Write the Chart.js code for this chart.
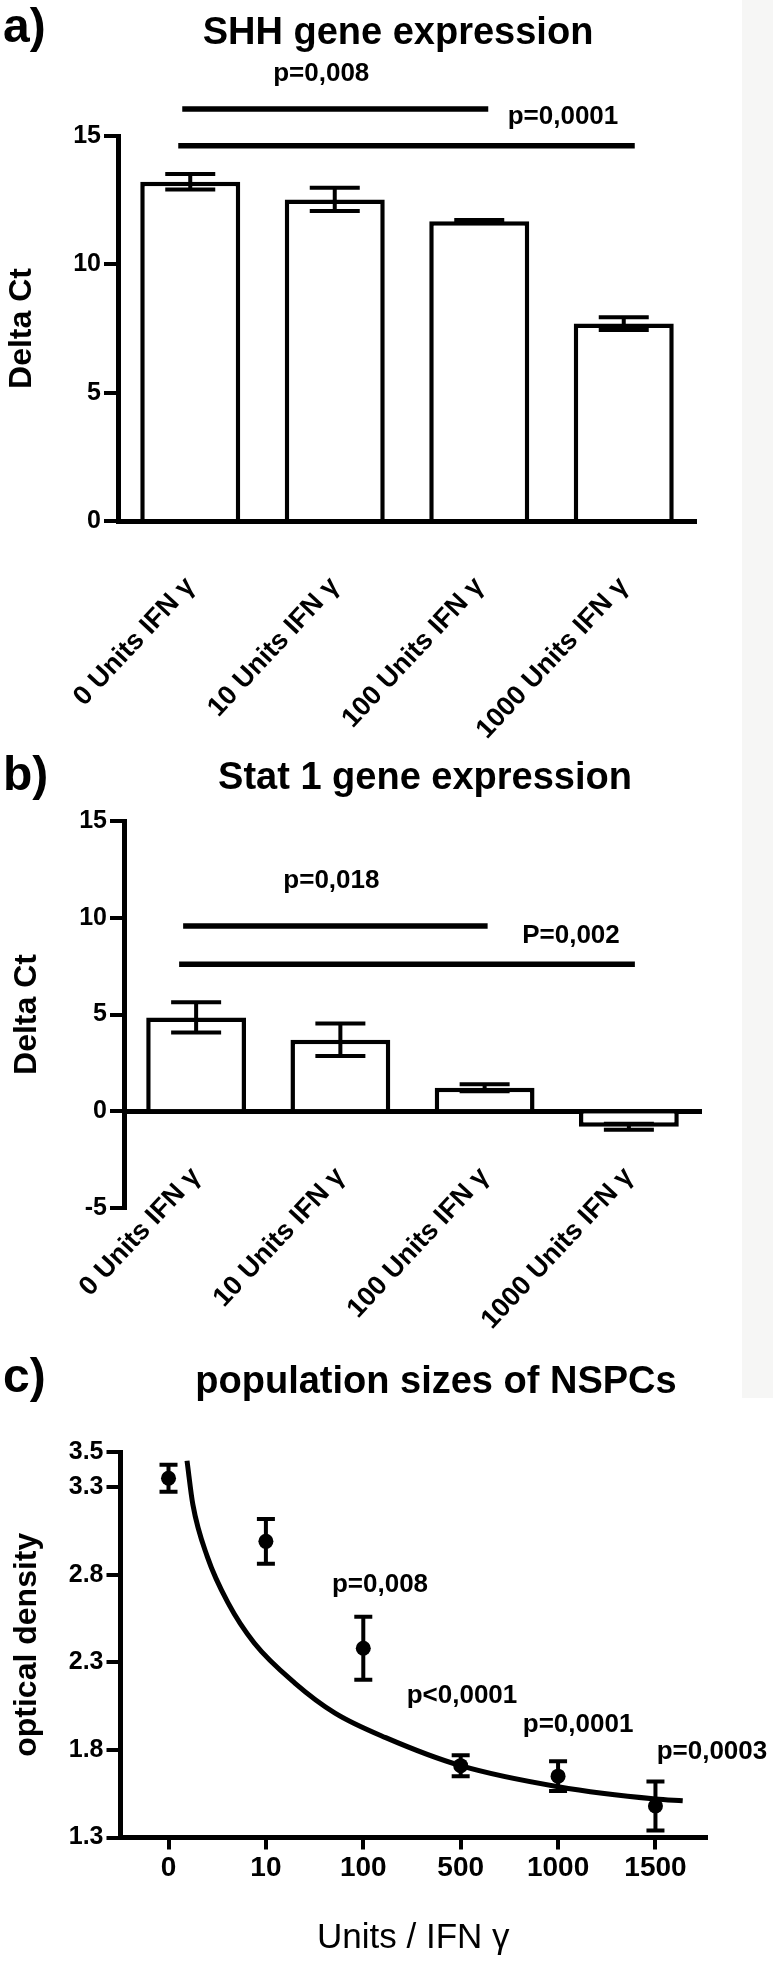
<!DOCTYPE html>
<html><head><meta charset="utf-8">
<script src="https://cdn.jsdelivr.net/npm/chart.js@4.4.1/dist/chart.umd.min.js"></script>
<style>
html,body{margin:0;padding:0;background:#fff;}
body{width:773px;height:1971px;position:relative;overflow:hidden;}
canvas{position:absolute;left:0;}
#strip{position:absolute;left:742px;top:0;width:31px;height:1398px;background:#f6f6f5;}
</style></head><body>
<div id="strip"></div>
<canvas id="ca" width="773" height="745" style="top:0px"></canvas>
<canvas id="cb" width="773" height="590" style="top:745px"></canvas>
<canvas id="cc" width="773" height="636" style="top:1335px"></canvas>
<script>
const FONT = '"Liberation Sans", Arial, Helvetica, sans-serif';

// ---- data: panel a (SHH) ----
const barCategories = ['0 Units IFN γ', '10 Units IFN γ', '100 Units IFN γ', '1000 Units IFN γ'];
const shhMean = [13.22, 12.53, 11.68, 7.69];
const shhSem = [0.30, 0.45, 0.05, 0.25];
const shhYTicks = [0, 5, 10, 15];
const shhPLabels = ['p=0,008', 'p=0,0001'];

// ---- data: panel b (Stat 1) ----
const stat1Mean = [4.85, 3.70, 1.22, -0.80];
const stat1Sem = [0.78, 0.84, 0.18, 0.15];
const stat1YTicks = [-5, 0, 5, 10, 15];
const stat1PLabels = ['p=0,018', 'P=0,002'];

// ---- data: panel c (population sizes) ----
const doseLabels = ['0', '10', '100', '500', '1000', '1500'];
const dosePos = [0, 1, 2, 3, 4, 5];
const odMean = [3.35, 2.99, 2.38, 1.71, 1.65, 1.48];
const odSem = [0.077, 0.128, 0.18, 0.06, 0.085, 0.14];
const odPLabels = [null, null, 'p=0,008', 'p<0,0001', 'p=0,0001', 'p=0,0003'];
const odYTicks = [1.3, 1.8, 2.3, 2.8, 3.3, 3.5];
const fitX = [0.19, 0.25, 0.40, 0.61, 0.88, 1.30, 1.71, 2.23, 3.00, 4.00, 5.00, 5.28];
const fitY = [3.45, 3.20, 2.90, 2.64, 2.41, 2.18, 2.01, 1.87, 1.71, 1.59, 1.52, 1.51];

Chart.defaults.font.family = FONT;
Chart.defaults.color = '#000';

const decor = {
  id: 'decor',
  afterDatasetsDraw(chart, args, o) {
    const ctx = chart.ctx, ys = chart.scales.y, xs = chart.scales.x;
    ctx.save();
    ctx.fillStyle = '#000';
    ctx.strokeStyle = '#000';
    ctx.lineCap = 'butt';
    // error bars
    if (o.err) {
      const ds = chart.data.datasets[o.err.dataset];
      chart.getDatasetMeta(o.err.dataset).data.forEach((el, i) => {
        const raw = ds.data[i];
        const m = (typeof raw === 'object') ? raw.y : raw;
        const e = o.err.sem[i];
        const yt = ys.getPixelForValue(m + e), yb = ys.getPixelForValue(m - e);
        ctx.lineWidth = o.err.lw;
        ctx.beginPath();
        ctx.moveTo(el.x, yt); ctx.lineTo(el.x, yb);
        ctx.moveTo(el.x - o.err.cap, yt); ctx.lineTo(el.x + o.err.cap, yt);
        ctx.moveTo(el.x - o.err.cap, yb); ctx.lineTo(el.x + o.err.cap, yb);
        ctx.stroke();
        if (o.err.labels && o.err.labels[i]) {
          const off = o.err.labelOff[i];
          ctx.font = 'bold 26px ' + FONT;
          ctx.textAlign = 'center';
          ctx.textBaseline = 'alphabetic';
          ctx.fillText(o.err.labels[i], el.x + off[0], yt + off[1]);
        }
      });
    }
    // significance bars
    (o.sigs || []).forEach(s => {
      const y = ys.getPixelForValue(s.level);
      const x1 = xs.getPixelForValue(s.from) + s.ext[0];
      const x2 = xs.getPixelForValue(s.to) + s.ext[1];
      ctx.lineWidth = 5.5;
      ctx.beginPath(); ctx.moveTo(x1, y); ctx.lineTo(x2, y); ctx.stroke();
      ctx.font = 'bold 26px ' + FONT;
      ctx.textAlign = 'center';
      ctx.textBaseline = 'alphabetic';
      ctx.fillText(s.text, (x1 + x2) / 2 + s.lab[0], y + s.lab[1]);
    });
    // panel letter and title
    if (o.letter) {
      ctx.font = 'bold 48px ' + FONT;
      ctx.textAlign = 'left';
      ctx.textBaseline = 'alphabetic';
      ctx.fillText(o.letter.text, o.letter.x, o.letter.y);
    }
    if (o.title) {
      ctx.font = 'bold 38px ' + FONT;
      ctx.textAlign = 'center';
      ctx.textBaseline = 'alphabetic';
      ctx.fillText(o.title.text, o.title.x, o.title.y);
    }
    ctx.restore();
  }
};

function yAxis(width, min, max, ticksArr, title, titlePad, fmt) {
  return {
    type: 'linear', min, max, z: 1,
    afterFit: s => { s.width = width; },
    afterBuildTicks: s => { s.ticks = ticksArr.map(v => ({value: v})); },
    border: {display: true, width: 5, color: '#000'},
    grid: {display: true, drawOnChartArea: false, drawTicks: true, tickLength: 14, tickWidth: 4, tickColor: '#000', color: '#000', lineWidth: 4},
    ticks: {font: {size: 25, weight: 'bold'}, color: '#000', padding: 3, autoSkip: false,
            callback: fmt || (v => String(v))},
    title: {display: true, text: title, font: {size: 32, weight: 'bold'}, color: '#000', padding: {top: titlePad, bottom: 0}}
  };
}

function barXAxis() {
  return {
    type: 'category', position: {y: 0}, z: 1, offset: true,
    border: {display: true, width: 5, color: '#000'},
    grid: {display: false, drawTicks: false},
    ticks: {font: {size: 27, weight: 'bold'}, color: '#000', minRotation: 47, maxRotation: 47, autoSkip: false, padding: 50}
  };
}

function barDataset(values) {
  return {
    data: values, backgroundColor: '#fff', borderColor: '#000', borderWidth: 4.5,
    barPercentage: 0.692, categoryPercentage: 1
  };
}

// ---- Panel a ----
new Chart(document.getElementById('ca'), {
  type: 'bar',
  data: {labels: barCategories, datasets: [barDataset(shhMean)]},
  options: {
    responsive: false, animation: false, devicePixelRatio: 1,
    layout: {padding: {top: 136, right: 77, bottom: 224, left: 0}},
    plugins: {
      legend: {display: false}, tooltip: {enabled: false},
      decor: {
        letter: {text: 'a)', x: 3, y: 42},
        title: {text: 'SHH gene expression', x: 398, y: 44},
        err: {dataset: 0, sem: shhSem, cap: 25, lw: 4},
        sigs: [
          {from: 0, to: 2, level: 16.05, ext: [-8, 9], text: shhPLabels[0], lab: [-14, -27.7]},
          {from: 0, to: 3, level: 14.62, ext: [-12, 11], text: shhPLabels[1], lab: [156.5, -22]}
        ]
      }
    },
    scales: {
      x: barXAxis(),
      y: yAxis(118, 0, 15, shhYTicks, 'Delta Ct', 2.7)
    }
  },
  plugins: [decor]
});

// ---- Panel b ----
new Chart(document.getElementById('cb'), {
  type: 'bar',
  data: {labels: barCategories, datasets: [barDataset(stat1Mean)]},
  options: {
    responsive: false, animation: false, devicePixelRatio: 1,
    layout: {padding: {top: 76, right: 72, bottom: 127, left: 0}},
    plugins: {
      legend: {display: false}, tooltip: {enabled: false},
      decor: {
        letter: {text: 'b)', x: 3, y: 45},
        title: {text: 'Stat 1 gene expression', x: 425, y: 44},
        err: {dataset: 0, sem: stat1Sem, cap: 25, lw: 4},
        sigs: [
          {from: 0, to: 2, level: 9.57, ext: [-13, 3], text: stat1PLabels[0], lab: [-4, -38]},
          {from: 0, to: 3, level: 7.6, ext: [-17, 6], text: stat1PLabels[1], lab: [164, -21.3]}
        ]
      }
    },
    scales: {
      x: barXAxis(),
      y: yAxis(124, -5, 15, stat1YTicks, 'Delta Ct', 7.7)
    }
  },
  plugins: [decor]
});

// ---- Panel c ----
new Chart(document.getElementById('cc'), {
  type: 'scatter',
  data: {
    datasets: [
      {
        data: dosePos.map((x, i) => ({x, y: odMean[i]})),
        pointRadius: 7.5, pointBackgroundColor: '#000', pointBorderWidth: 0, showLine: false
      },
      {
        data: fitX.map((x, i) => ({x, y: fitY[i]})),
        showLine: true, borderColor: '#000', borderWidth: 5, pointRadius: 0,
        cubicInterpolationMode: 'monotone', fill: false
      }
    ]
  },
  options: {
    responsive: false, animation: false, devicePixelRatio: 1,
    layout: {padding: {top: 117, right: 67, bottom: 0, left: 0}},
    plugins: {
      legend: {display: false}, tooltip: {enabled: false},
      decor: {
        letter: {text: 'c)', x: 3, y: 57},
        title: {text: 'population sizes of NSPCs', x: 436, y: 58},
        err: {dataset: 0, sem: odSem, cap: 9, lw: 4, labels: odPLabels,
              labelOff: [null, null, [16.7, -25], [1.3, -51.7], [20, -29.3], [56.5, -22.7]]}
      }
    },
    scales: {
      x: {
        type: 'linear', min: -0.493, max: 5.519, z: 1,
        afterFit: s => { s.height = 133.5; },
        afterBuildTicks: s => { s.ticks = dosePos.map(v => ({value: v})); },
        border: {display: true, width: 5, color: '#000'},
        grid: {display: true, drawOnChartArea: false, drawTicks: true, tickLength: 12, tickWidth: 4, tickColor: '#000', color: '#000', lineWidth: 4},
        ticks: {font: {size: 28, weight: 'bold'}, color: '#000', padding: 2, autoSkip: false, maxRotation: 0,
                callback: (v, i) => doseLabels[i]},
        title: {display: true, text: 'Units / IFN γ', font: {size: 35, weight: 'normal'}, color: '#000', padding: {top: 0, bottom: 12}}
      },
      y: yAxis(120.5, 1.3, 3.5, odYTicks, 'optical density', 7.7, v => v.toFixed(1))
    }
  },
  plugins: [decor]
});
</script>
</body></html>
